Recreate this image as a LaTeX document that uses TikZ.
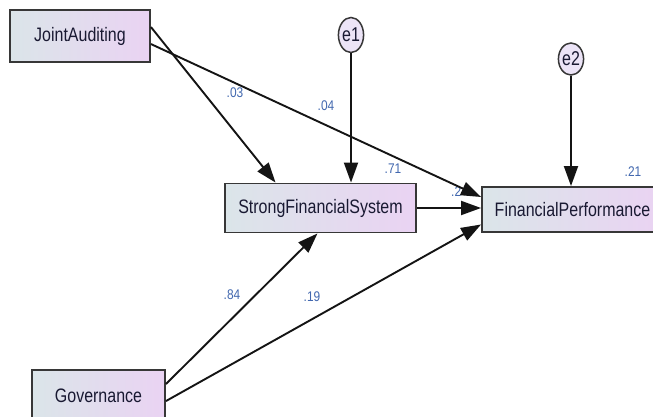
\documentclass[tikz,border=0pt]{standalone}
\usepackage{fontspec}
\newfontfamily\boxfont[FakeStretch=0.82]{Liberation Sans}
\newfontfamily\errfont[FakeStretch=0.8]{Liberation Sans}
\newfontfamily\coeffont[FakeStretch=0.85]{Liberation Sans}
\usetikzlibrary{arrows.meta,calc,shapes.geometric}
\definecolor{boxleft}{RGB}{219,229,233}
\definecolor{boxright}{RGB}{234,211,243}
\definecolor{edgegray}{RGB}{55,55,55}
\definecolor{labblue}{RGB}{66,104,175}
\definecolor{txt}{RGB}{25,25,50}
\definecolor{errfill}{RGB}{236,228,247}
\begin{document}
\begin{tikzpicture}[x=1pt,y=-1pt,
  var/.style={rectangle, draw=edgegray, line width=1.9pt, left color=boxleft, right color=boxright, inner sep=0pt, font=\boxfont\fontsize{19.5}{21}\selectfont, text=txt},
  err/.style={ellipse, draw=edgegray, line width=1.5pt, fill=errfill, inner sep=0pt, font=\errfont\fontsize{20}{21}\selectfont, text=txt},
  coef/.style={font=\coeffont\fontsize{14}{15}\selectfont, text=labblue, inner sep=0pt},
  link/.style={draw=black!92, line width=1.9pt, -{Triangle[length=20pt,width=14pt]}}
]
\fill[white] (0,0) rectangle (653,417);
\useasboundingbox (0,0) rectangle (653,417);

\node[var, minimum width=140pt, minimum height=52pt] (ja) at (80,36) {JointAuditing};
\node[var, minimum width=191pt, minimum height=49pt] (sfs) at (320.5,208) {StrongFinancialSystem};
\node[var, minimum width=181pt, minimum height=45pt] (fp) at (572.5,209.5) {FinancialPerformance};
\node[var, minimum width=133pt, minimum height=52pt] (gov) at (98.5,396) {Governance};
\node[err, minimum width=25pt, minimum height=35pt] (e1) at (351,35) {e1};
\node[err, minimum width=20pt, minimum height=32pt] (e2) at (571,59) {e2};

\node[coef] (l03) at (235,93) {.03};
\node[coef] (l04) at (326,106) {.04};
\node[coef] (l71) at (393,169) {.71};
\node[coef, anchor=west] (l2) at (451,192) {.2};
\node[coef] (l21) at (633,172) {.21};
\node[coef] (l84) at (232,295) {.84};
\node[coef] (l19) at (312,297) {.19};

\draw[link] ($(ja.north east)+(0,18)$) -- ($(sfs.north)+(-45,0)$);
\draw[link] ($(ja.north east)+(0,35)$) -- ($(fp.west)+(0,-12.5)$);
\draw[link] (e1.south) -- (e1.south |- sfs.north);
\draw[link] (e2.south) -- (e2.south |- fp.north);
\draw[link] (sfs.east) -- (sfs.east -| fp.west);
\draw[link] ($(gov.north east)+(0,15)$) -- ($(sfs.south)+(-3,0)$);
\draw[link] ($(gov.north east)+(0,32)$) -- ($(fp.west)+(0,15)$);
\end{tikzpicture}
\end{document}
